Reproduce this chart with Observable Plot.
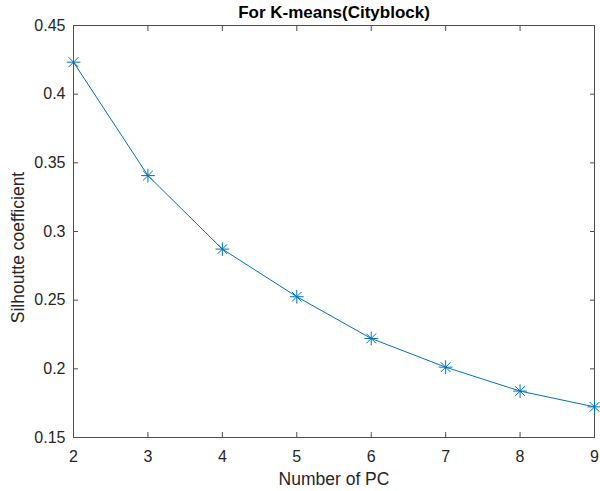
<!DOCTYPE html>
<html><head><meta charset="utf-8">
<script src="https://cdn.jsdelivr.net/npm/d3@7"></script>
<script src="https://cdn.jsdelivr.net/npm/@observablehq/plot@0.6"></script>
<style>
body{margin:0;background:#fff;}
svg{font-family:"Liberation Sans",Arial,sans-serif;}
</style>
</head><body><div id="chart"></div>
<script>
const pcs = [2, 3, 4, 5, 6, 7, 8, 9];
const silhouette = [0.4233, 0.3407, 0.2872, 0.2525, 0.2221, 0.2012, 0.1838, 0.1723];
const xTicks = [2, 3, 4, 5, 6, 7, 8, 9];
const yTicks = [0.15, 0.2, 0.25, 0.3, 0.35, 0.4, 0.45];
const title = "For K-means(Cityblock)";
const xLabel = "Number of PC";
const yLabel = "Silhoutte coefficient";
const data = pcs.map((x, i) => ({x, y: silhouette[i]}));
const axisColor = "#4d4d4d";
const textColor = "#262626";
const lineColor = "#0072BD";
const chart = Plot.plot({
  width: 600, height: 491,
  marginLeft: 73, marginRight: 6, marginTop: 25, marginBottom: 54,
  style: {fontSize: "16px", fontFamily: "'Liberation Sans', Arial, sans-serif", color: textColor, background: "#fff"},
  x: {domain: [2, 9], axis: null},
  y: {domain: [0.15, 0.45], axis: null},
  marks: [
    Plot.frame({stroke: axisColor, strokeOpacity: 1}),
    Plot.axisX({ticks: xTicks, tickSize: -5, tickFormat: () => "", label: null, stroke: axisColor}),
    Plot.axisX({anchor: "top", ticks: xTicks, tickSize: -5, tickFormat: () => "", label: null, stroke: axisColor}),
    Plot.axisY({ticks: yTicks, tickSize: -5, tickFormat: () => "", label: null, stroke: axisColor}),
    Plot.axisY({anchor: "right", ticks: yTicks, tickSize: -5, tickFormat: () => "", label: null, stroke: axisColor}),
    Plot.text(xTicks, {x: d => d, text: d => String(d), frameAnchor: "bottom", lineAnchor: "middle", dy: 19, fontSize: 16, fill: textColor}),
    Plot.text(yTicks, {y: d => d, text: d => String(+d.toFixed(2)), frameAnchor: "left", textAnchor: "end", lineAnchor: "middle", dx: -8, fontSize: 16, fill: textColor}),
    Plot.line(data, {x: "x", y: "y", stroke: lineColor, strokeWidth: 1}),
    Plot.dot(data, {x: "x", y: "y", symbol: "plus", r: 4.5, stroke: lineColor, strokeWidth: 1}),
    Plot.dot(data, {x: "x", y: "y", symbol: "times", r: 4.5, stroke: lineColor, strokeWidth: 1}),
    Plot.text([xLabel], {frameAnchor: "bottom", lineAnchor: "middle", dy: 42, fontSize: 17.5, fill: textColor}),
    Plot.text([yLabel], {frameAnchor: "left", textAnchor: "middle", lineAnchor: "middle", dx: -55, dy: 16, rotate: -90, fontSize: 17.5, fill: textColor}),
    Plot.text([title], {frameAnchor: "top", lineAnchor: "top", dy: -20, fontSize: 17, fontWeight: "bold", fill: "#000"})
  ]
});
document.getElementById("chart").appendChild(chart);
</script></body></html>
